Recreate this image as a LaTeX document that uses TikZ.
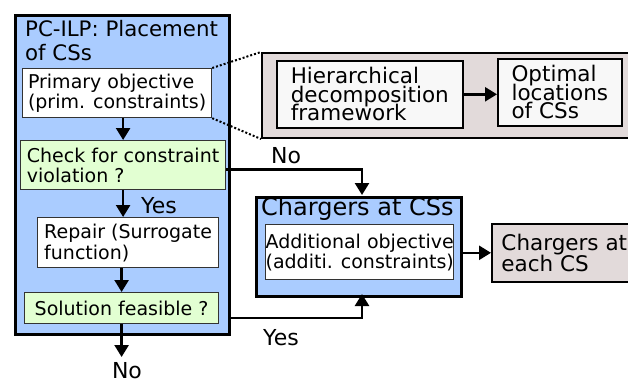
\documentclass[tikz,border=0pt]{standalone}
\usepackage{fontspec}
\setmainfont{DejaVu Sans}
\usetikzlibrary{arrows.meta}

\definecolor{ilpblue}{RGB}{170,204,255}
\definecolor{checkgreen}{RGB}{226,255,210}
\definecolor{outgray}{RGB}{226,218,218}
\definecolor{innerwhite}{RGB}{248,248,248}
\newcommand{\tightleading}{\lineskiplimit=-20pt\relax\lineskip=0pt\relax}

\begin{document}
\begin{tikzpicture}[
	x=1pt, y=-1pt,
	bigbox/.style={draw, line width=3pt, fill=ilpblue, anchor=north west, inner sep=0pt},
	whitebox/.style={draw=black!80, line width=1.2pt, fill=white, anchor=north west,
		align=left, inner sep=0pt, font=\fontsize{19}{20}\selectfont\tightleading},
	checkbox/.style={whitebox, fill=checkgreen},
	graybox/.style={draw, line width=1.6pt, fill=innerwhite, anchor=north west,
		align=left, inner sep=0pt, font=\fontsize{21.5}{18.5}\selectfont\tightleading},
	flow/.style={-{Triangle[length=12pt,width=14pt]}, line width=2.5pt},
	answer/.style={font=\fontsize{22}{24}\selectfont}
	]
	\useasboundingbox (0,0) rectangle (628,383);
	
	% --- PC-ILP ---
	\node[bigbox, minimum width=214pt, minimum height=319pt] (ilp) at (14,14) {};
	\node[anchor=north west, align=left, inner sep=0pt,
		font=\fontsize{21.3}{24}\selectfont] (ilptitle) at (25,20) {PC-ILP: Placement\\of CSs};
	
	\node[whitebox, minimum width=189pt, minimum height=49pt] (prim) at (22,68)
		{Primary objective\\(prim. constraints)};
	\node[checkbox, minimum width=205pt, minimum height=49pt] (check) at (20,140)
		{Check for constraint\\violation ?};
	\node[whitebox, minimum width=181pt, minimum height=50pt,
		font=\fontsize{19}{21}\selectfont\tightleading] (repair) at (37,217)
		{Repair (Surrogate\\function)};
	\node[checkbox, minimum width=194pt, minimum height=31pt] (sol) at (24,292)
		{Solution feasible ?};
	
	\draw[flow] (check.north |- prim.south) -- (check.north);
	\draw[flow] (check.south) -- (check.south |- repair.north);
	\draw[flow] (sol.north |- repair.south) -- (sol.north);
	\node[answer] (yes1) at (159,206) {Yes};
	
	\coordinate (noend) at (121,357);
	\draw[flow] (sol.south) -- (sol.south |- noend);
	\node[answer] (no2) at (127,371) {No};
	
	% --- Zoom ---
	\node[draw, line width=2pt, fill=outgray, anchor=north west,
		minimum width=380pt, minimum height=85pt] (zoom) at (261,52) {};
	\node[graybox, minimum width=186pt, minimum height=67pt] (hier) at (276,60)
		{Hierarchical\\decomposition\\framework};
	\node[graybox, minimum width=124pt, minimum height=67pt] (opt) at (497,58)
		{Optimal\\locations\\of CSs};
	\draw[flow] (hier.east) -- (hier.east -| opt.west);
	\draw[dotted, line width=2pt] (prim.north east) -- (zoom.north west);
	\draw[dotted, line width=2pt] (prim.south east) -- (zoom.south west);
	
	% --- Chargers ---
	\node[bigbox, minimum width=205pt, minimum height=99pt] (chg) at (254.5,195.5) {};
	\node[anchor=north west, inner sep=0pt,
		font=\fontsize{24}{26}\selectfont] (chgtitle) at (261,197) {Chargers at CSs};
	\node[whitebox, minimum width=188pt, minimum height=55pt] (addl) at (265,224)
		{Additional objective\\(additi. constraints)};
	\node[draw, line width=1.6pt, fill=outgray, anchor=north west, align=left,
		inner sep=0pt, minimum width=145pt, minimum height=58pt,
		font=\fontsize{21.5}{20.5}\selectfont\tightleading] (each) at (491,223)
		{Chargers at\\each CS};
	\draw[flow] (chg.east |- each.west) -- (each.west);
	
	% --- Yes / No ---
	\coordinate (chgin) at (362,195);
	\draw[flow] ([yshift=-4.5pt]check.east) -| (chgin);
	\node[answer] (no1) at (286,156) {No};
	\coordinate (chgout) at (362,294);
	\coordinate (yesstart) at (228,318);
	\draw[flow] (yesstart) -| (chgout);
	\node[answer] (yes2) at (281,338) {Yes};
\end{tikzpicture}
\end{document}
